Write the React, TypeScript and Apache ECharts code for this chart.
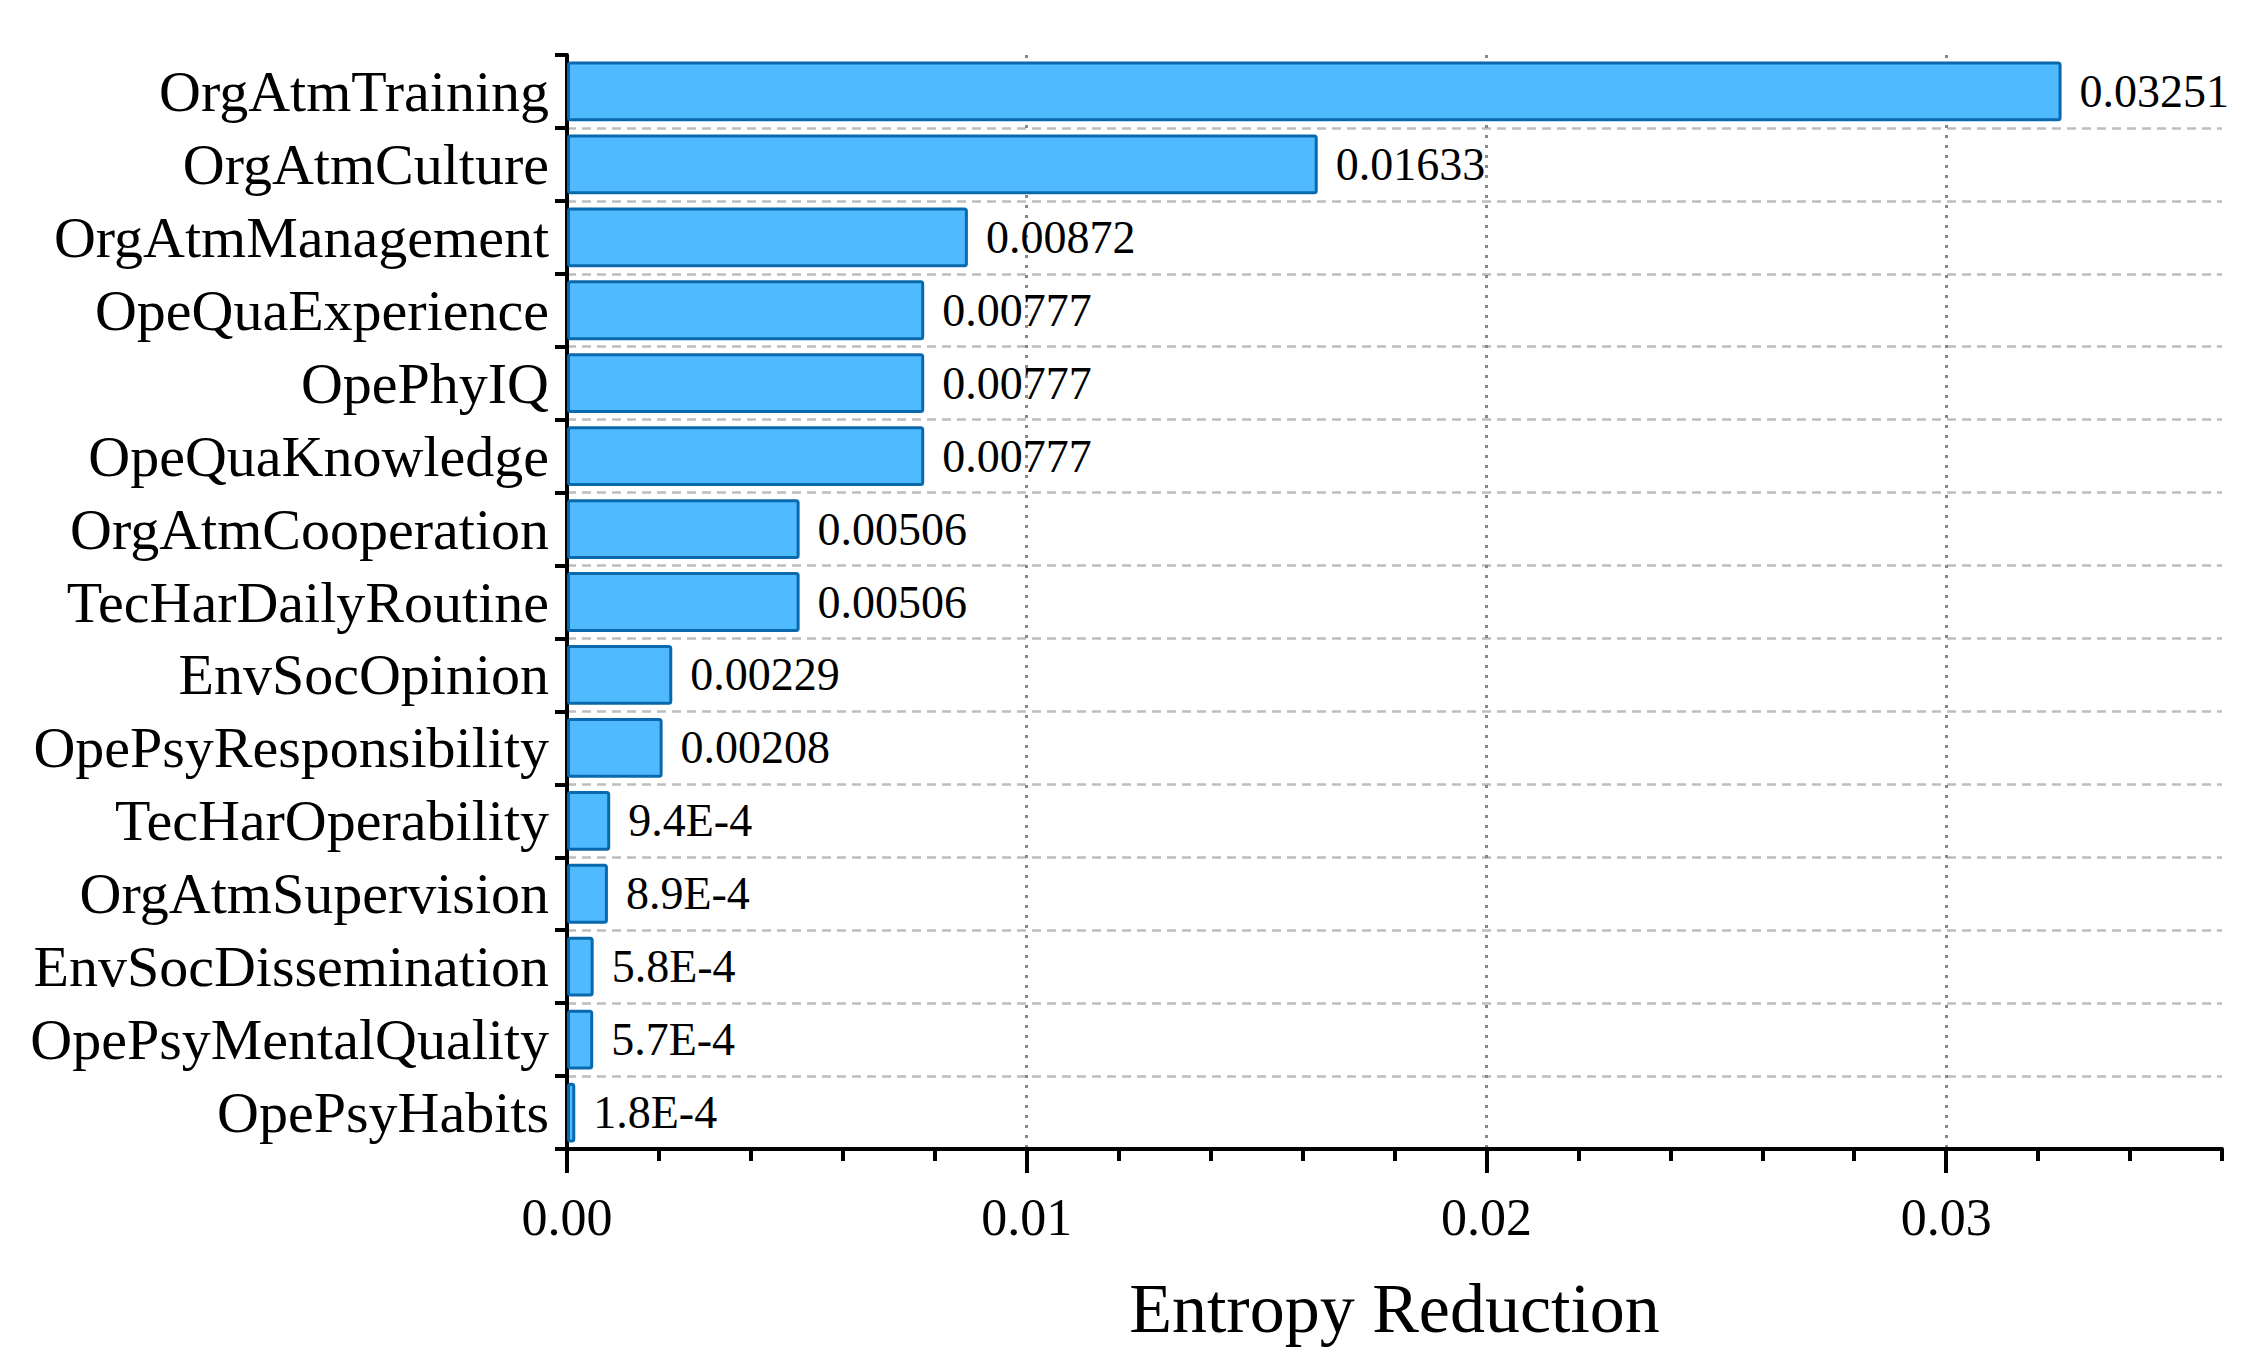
import React, { useEffect, useRef } from "react";
import * as echarts from "echarts";

const categories = [
  "OrgAtmTraining",
  "OrgAtmCulture",
  "OrgAtmManagement",
  "OpeQuaExperience",
  "OpePhyIQ",
  "OpeQuaKnowledge",
  "OrgAtmCooperation",
  "TecHarDailyRoutine",
  "EnvSocOpinion",
  "OpePsyResponsibility",
  "TecHarOperability",
  "OrgAtmSupervision",
  "EnvSocDissemination",
  "OpePsyMentalQuality",
  "OpePsyHabits",
];

const values = [
  0.03251, 0.01633, 0.00872, 0.00777, 0.00777, 0.00777, 0.00506, 0.00506,
  0.00229, 0.00208, 0.00094, 0.00089, 0.00058, 0.00057, 0.00018,
];

const majorTicks = [0, 0.01, 0.02, 0.03];
const xMax = 0.036;
const minorStep = 0.002;
const majorStep = 0.01;
const axisTitle = "Entropy Reduction";

const FONT = "'Liberation Serif', 'Times New Roman', serif";

function fmtValue(v: number): string {
  if (v < 0.001) return (v * 1e4).toFixed(1) + "E-4";
  return v.toFixed(5);
}

export default function App() {
  const ref = useRef<HTMLDivElement>(null);
  useEffect(() => {
    if (!ref.current) return;
    const chart = echarts.init(ref.current, null, { renderer: "svg" });
    chart.setOption({
      animation: false,
      backgroundColor: "#ffffff",
      textStyle: { fontFamily: FONT },
      grid: {
        left: 567,
        right: 37,
        top: 55,
        bottom: 222,
        containLabel: false,
        outerBoundsMode: "none",
      },
      xAxis: [
        {
          type: "value",
          min: 0,
          max: xMax,
          interval: minorStep,
          position: "bottom",
          axisLine: { show: true, lineStyle: { color: "#000", width: 4 } },
          axisTick: {
            show: true,
            length: 12,
            lineStyle: { color: "#000", width: 4 },
          },
          axisLabel: { show: false },
          splitLine: { show: false },
          name: axisTitle,
          nameLocation: "middle",
          nameGap: 124,
          nameTextStyle: {
            fontFamily: FONT,
            fontSize: 70,
            lineHeight: 70,
            color: "#000",
          },
        },
        {
          type: "value",
          min: 0,
          max: xMax,
          interval: majorStep,
          position: "bottom",
          axisLine: { show: false },
          axisTick: {
            show: true,
            length: 24,
            customValues: majorTicks,
            lineStyle: { color: "#000", width: 4 },
          },
          axisLabel: {
            show: true,
            customValues: majorTicks,
            formatter: (v: number) => v.toFixed(2),
            fontFamily: FONT,
            fontSize: 52,
            lineHeight: 52,
            color: "#000",
            margin: 42,
          },
          splitLine: {
            show: true,
            showMinLine: false,
            lineStyle: { color: "#888888", width: 3, type: [3, 7] },
          },
        },
      ],
      yAxis: {
        type: "category",
        data: categories,
        inverse: true,
        axisLine: { show: true, lineStyle: { color: "#000", width: 4 } },
        axisTick: {
          show: true,
          interval: 0,
          length: 12,
          alignWithLabel: false,
          lineStyle: { color: "#000", width: 4 },
        },
        axisLabel: {
          interval: 0,
          fontFamily: FONT,
          fontSize: 58,
          color: "#000",
          margin: 18,
        },
        splitLine: {
          show: true,
          interval: 0,
          showMinLine: false,
          showMaxLine: false,
          lineStyle: { color: "#bdbdbd", width: 2.5, type: [9, 6] },
        },
      },
      series: [
        {
          type: "bar",
          xAxisIndex: 0,
          data: values,
          barWidth: "82%",
          itemStyle: {
            color: "#4FBAFE",
            borderColor: "#0A69AC",
            borderWidth: 3,
            borderRadius: 2,
          },
          label: {
            show: true,
            position: "right",
            distance: 18,
            formatter: (p: any) => fmtValue(p.value),
            fontFamily: FONT,
            fontSize: 46,
            color: "#000",
          },
        },
      ],
    });
    return () => chart.dispose();
  }, []);
  return (
    <div
      ref={ref}
      style={{
        position: "fixed",
        left: 0,
        top: 0,
        width: 2259,
        height: 1371,
        background: "#fff",
      }}
    />
  );
}
